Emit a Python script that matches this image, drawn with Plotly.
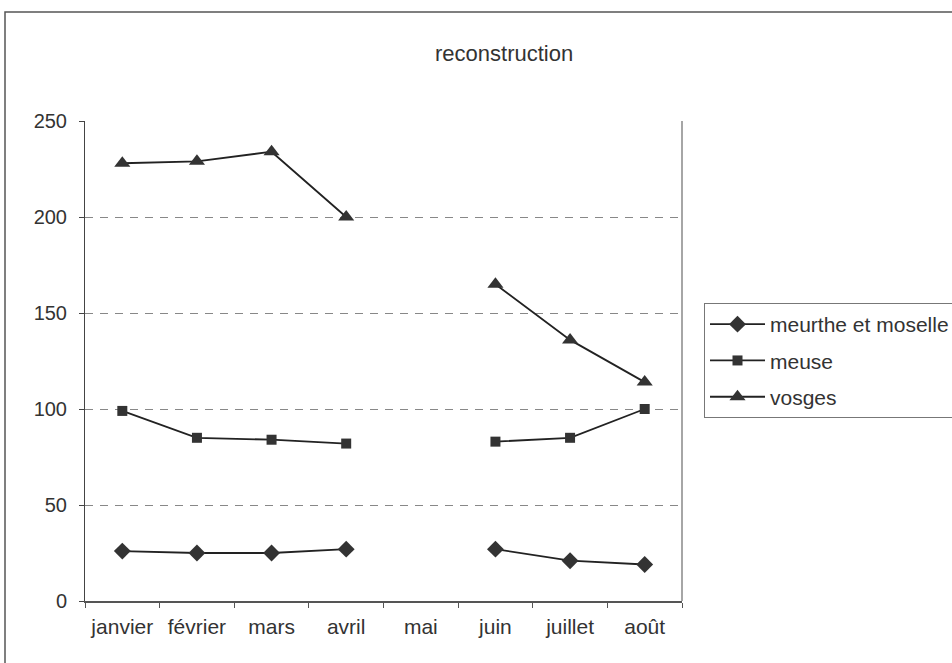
import plotly.graph_objects as go

months = ["janvier", "février", "mars", "avril", "mai", "juin", "juillet", "août"]
meurthe = [26, 25, 25, 27, None, 27, 21, 19]
meuse = [99, 85, 84, 82, None, 83, 85, 100]
vosges = [228, 229, 234, 200, None, 165, 136, 114]
y_ticks = [0, 50, 100, 150, 200, 250]

FONT = "Liberation Sans, Arial, sans-serif"
LINE = "#222222"
MARK = "#333333"
TXT = "#333333"

fig = go.Figure()
series = [
    ("meurthe et moselle", meurthe, "diamond", 13),
    ("meuse", meuse, "square", 10),
    ("vosges", vosges, "triangle-up", 14),
]
for name, vals, sym, sz in series:
    fig.add_trace(go.Scatter(
        x=months, y=vals, name=name, mode="lines+markers",
        connectgaps=False, legendgroup=name,
        line=dict(color=LINE, width=1.8),
        marker=dict(symbol=sym, size=sz, color=MARK, line=dict(width=0)),
    ))

L, R, T, B = 85, 682, 121, 601
W, H = 952, 663

fig.update_layout(
    width=W, height=H,
    margin=dict(l=L, r=W - R, t=T, b=H - B, autoexpand=False),
    paper_bgcolor="white", plot_bgcolor="white",
    font=dict(family=FONT, size=20, color=TXT),
    showlegend=True,
    legend=dict(
        x=(704 - L) / (R - L), y=(B - 303) / (B - T),
        xanchor="left", yanchor="top",
        bordercolor="#777777", borderwidth=1,
        bgcolor="white", itemwidth=55,
        tracegroupgap=6,
        font=dict(family=FONT, size=21, color=TXT),
    ),
    xaxis=dict(
        type="category", categoryorder="array", categoryarray=months,
        range=[-0.5, 7.5], showgrid=False, zeroline=False,
        showline=True, linecolor="#555555", linewidth=1.5,
        ticks="outside", tickson="boundaries", ticklen=5,
        tickcolor="#555555", tickwidth=1,
        ticklabelstandoff=6,
        tickfont=dict(family=FONT, size=21, color=TXT),
    ),
    yaxis=dict(
        range=[0, 250], tickvals=y_ticks, showgrid=True,
        gridcolor="#888888", gridwidth=1, griddash="8px,7px",
        zeroline=False, showline=True, linecolor="#444444", linewidth=1,
        ticks="outside", ticklen=5, tickcolor="#444444",
        ticklabelstandoff=8,
        tickfont=dict(family=FONT, size=20, color=TXT),
    ),
    shapes=[
        dict(type="line", xref="paper", yref="paper", x0=1, x1=1, y0=0, y1=1,
             line=dict(color="#888888", width=1.5)),
        dict(type="rect", xref="paper", yref="paper",
             x0=(5 - L) / (R - L), x1=2.0,
             y0=-0.5, y1=(B - 12) / (B - T),
             line=dict(color="#555555", width=1.5), layer="below"),
    ],
    annotations=[
        dict(text="reconstruction", xref="paper", yref="paper",
             x=(504 - L) / (R - L), y=(B - 53) / (B - T),
             xanchor="center", yanchor="middle", showarrow=False,
             font=dict(family=FONT, size=22, color=TXT)),
    ],
)

fig.write_html("out.html", config={"displayModeBar": False},
               post_script="document.body.style.margin='0px';")
